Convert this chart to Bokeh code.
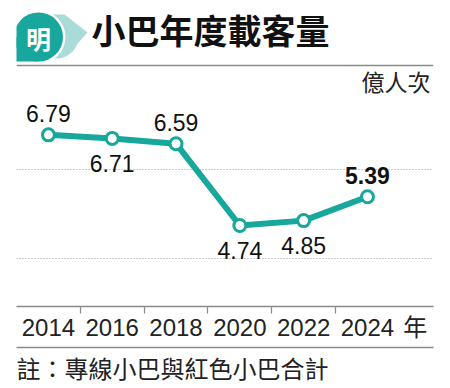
import numpy as np
from bokeh.plotting import figure
from bokeh.models import (Range1d, LinearAxis, FixedTicker, Grid, Label, Span, Title,
                          ColumnDataSource)
from bokeh.core.properties import value
from bokeh.embed import file_html
from bokeh.resources import INLINE

# ---- data ----
years = [2014, 2016, 2018, 2020, 2022, 2024]
riders = [6.79, 6.71, 6.59, 4.74, 4.85, 5.39]          # 億人次
value_labels = ["6.79", "6.71", "6.59", "4.74", "4.85", "5.39"]
label_side = ["above", "below", "above", "below", "below", "above"]
label_weight = ["normal", "normal", "normal", "normal", "normal", "bold"]
tick_labels = ["2014", "2016", "2018", "2020", "2022", "2024"]
between_years = [2015, 2017, 2019, 2021, 2023]
grid_values = [4, 6]
title_text = "小巴年度載客量"
unit_text = "億人次"
year_unit = "年"
note_text = "註：專線小巴與紅色小巴合計"
logo_text = "明"

TEAL = "#17a79c"
LIGHT = "#a9dcd8"
GREY = "#8a8a8a"
CJK = "Noto Sans CJK TC"
LATIN = "'Liberation Sans', 'Noto Sans CJK TC'"

W, H = 440, 388
FL, FR, FB = 16, 433, 306          # frame left / right / bottom (canvas px)

p = figure(width=W, height=H, output_backend="svg", toolbar_location=None,
           x_axis_location=None, y_axis_location=None,
           x_range=Range1d(2013.0, 2026.07), y_range=Range1d(2.907, 9.83),
           min_border_left=FL, min_border_right=W - FR, min_border_top=0,
           min_border_bottom=H - FB)
p.outline_line_color = None
p.background_fill_color = "white"
p.border_fill_color = "white"
p.grid.grid_line_color = None

# pixel-space ranges for header decoration (y downward)
p.extra_x_ranges = {"px": Range1d(FL, FR)}
p.extra_y_ranges = {"px": Range1d(FB, 0)}

# dotted horizontal grid
p.add_layout(Grid(dimension=1, ticker=FixedTicker(ticks=grid_values),
                  grid_line_color="#9a9a9a", grid_line_width=1, grid_line_dash="1 2"))

# top rule under the header
p.add_layout(Span(location=65, dimension="width", y_range_name="px",
                  line_color=GREY, line_width=1.5))

# x axis
tick_pos = years + [2025.5]
overrides = {y: t for y, t in zip(years, tick_labels)}
overrides[2025.5] = year_unit
xaxis = LinearAxis(ticker=FixedTicker(ticks=tick_pos, minor_ticks=between_years),
                   major_label_overrides=overrides,
                   major_tick_out=0, major_tick_in=0, minor_tick_out=7, minor_tick_in=0,
                   minor_tick_line_color=GREY, minor_tick_line_width=1.2,
                   axis_line_color=GREY, axis_line_width=1.5,
                   major_label_text_font=LATIN, major_label_text_font_size="24px",
                   major_label_text_color="#222222", major_label_standoff=0,
                   axis_label=" ", axis_label_standoff=0, axis_label_text_font_size="1px")
p.add_layout(xaxis, "below")
base_rule = LinearAxis(ticker=FixedTicker(ticks=[]), major_tick_out=0, major_tick_in=0,
                       minor_tick_out=0, minor_tick_in=0, major_label_text_font_size="0px",
                       axis_line_color=GREY, axis_line_width=1.5)
p.add_layout(base_rule, "below")
p.add_layout(Title(text=note_text, align="left", text_font=CJK, text_font_size="24px",
                   text_font_style="normal", text_color="#222222", standoff=0), "below")

# data line + markers + labels
src = ColumnDataSource(dict(
    x=years, y=riders, label=value_labels,
    dy=[-21 if s == "above" else 25 for s in label_side],
    weight=label_weight,
))
p.line("x", "y", source=src, line_color=TEAL, line_width=6, line_join="round")
p.scatter("x", "y", source=src, marker="circle", size=12, fill_color="white",
          line_color=TEAL, line_width=3)
p.text("x", "y", text="label", source=src, y_offset="dy",
       text_font=value("Liberation Sans"), text_font_size="23px",
       text_font_style="weight", text_align="center", text_baseline="alphabetic",
       text_color="#111111")

# ---- header logo (pixel space) ----
ang = np.deg2rad(np.linspace(20, 90, 8))
arc_x = list(56 + 22 * np.cos(ang))
arc_y = list(36 + 22 * np.sin(ang))
p.patch([44, 64, 87] + arc_x + [44], [14, 14, 32] + arc_y + [58],
        x_range_name="px", y_range_name="px", fill_color=LIGHT, line_color=None)
# white halo, then teal bubble with square bottom-left corner
p.circle(x=[38], y=[36.5], radius=27, x_range_name="px", y_range_name="px",
         fill_color="white", line_color=None)
p.quad(left=[11], right=[38], top=[36.5], bottom=[63], x_range_name="px",
       y_range_name="px", fill_color="white", line_color=None)
p.circle(x=[38], y=[36.5], radius=24.5, x_range_name="px", y_range_name="px",
         fill_color=TEAL, line_color=None)
p.quad(left=[13.5], right=[38], top=[36.5], bottom=[61], x_range_name="px",
       y_range_name="px", fill_color=TEAL, line_color=None)
p.text(x=[38], y=[37], text=[logo_text], x_range_name="px", y_range_name="px",
       text_font=value(CJK), text_font_size="25px", text_font_style="bold",
       text_color="white", text_align="center", text_baseline="middle")

p.add_layout(Label(x=91, y=29, x_range_name="px", y_range_name="px", text=title_text,
                   text_font=CJK, text_font_size="34px", text_font_style="bold",
                   text_color="#111111", text_align="left", text_baseline="middle"))
p.add_layout(Label(x=430, y=80, x_range_name="px", y_range_name="px", text=unit_text,
                   text_font=CJK, text_font_size="23px", text_color="#222222",
                   text_align="right", text_baseline="middle"))

open("out.html", "w").write(file_html(p, INLINE))
